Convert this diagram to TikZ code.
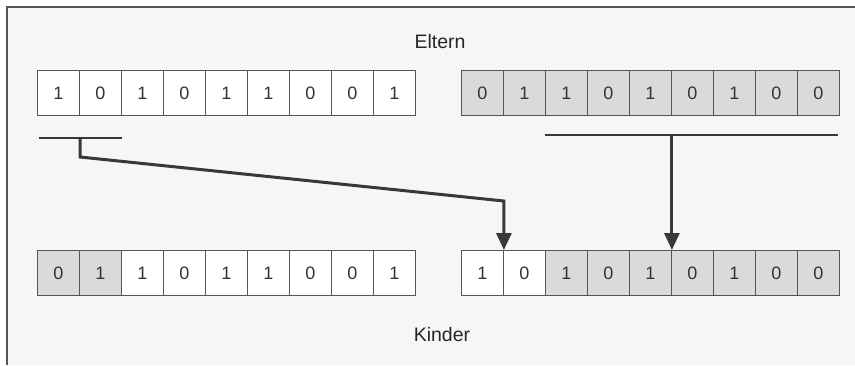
\documentclass[tikz,border=0pt]{standalone}
\usepackage{fontspec}
\setmainfont{Liberation Sans}
\usetikzlibrary{arrows.meta}
\definecolor{bgpaper}{HTML}{F5F6F7}
\definecolor{cellgray}{HTML}{DADADA}
\definecolor{edgegray}{HTML}{555555}
\definecolor{linkgray}{HTML}{383838}
\tikzset{
  bitcell/.style={draw=edgegray, line width=0.9pt, minimum width=42pt, minimum height=45pt,
    inner sep=0pt, anchor=north west, font=\fontsize{18}{20}\selectfont, text=black!80},
  shaded/.style={bitcell, fill=cellgray},
  plain/.style={bitcell, fill=white},
  marker/.style={draw=linkgray, line width=1.1pt},
  link/.style={draw=linkgray, line width=3pt, line join=miter,
    -{Triangle[length=17pt,width=15pt]}},
  caption/.style={font=\fontsize{19.5}{22}\selectfont, text=black!85}
}
\begin{document}
\begin{tikzpicture}[x=1pt,y=-1pt]
\useasboundingbox (0,0) rectangle (855,365);
\fill[white] (0,0) rectangle (855,365);
\fill[bgpaper] (7,7) rectangle (855,365);
\draw[edgegray, line width=1.2pt] (7,365) -- (7,7) -- (855,7);
\node[caption] (eltern) at (440,42) {Eltern};
\node[caption] (kinder) at (442,335) {Kinder};
% top left parent
\foreach \b [count=\i] in {1,0,1,0,1,1,0,0,1}
  \node[plain] (tl\i) at ({37+42*(\i-1)},70) {\b};
% top right parent
\foreach \b [count=\i] in {0,1,1,0,1,0,1,0,0}
  \node[shaded] (tr\i) at ({461+42*(\i-1)},70) {\b};
% bottom left child
\foreach \b [count=\i] in {0,1,1,0,1,1,0,0,1}{
  \ifnum\i<3 \node[shaded] (bl\i) at ({37+42*(\i-1)},250) {\b};
  \else \node[plain] (bl\i) at ({37+42*(\i-1)},250) {\b};\fi}
% bottom right child
\foreach \b [count=\i] in {1,0,1,0,1,0,1,0,0}{
  \ifnum\i<3 \node[plain] (br\i) at ({461+42*(\i-1)},250) {\b};
  \else \node[shaded] (br\i) at ({461+42*(\i-1)},250) {\b};\fi}
% markers
\coordinate (mLa) at (39,138);
\coordinate (mLb) at (122,138);
\coordinate (mRa) at (545,135);
\coordinate (mRb) at (838,135);
\draw[marker] (mLa) -- (mLb);
\draw[marker] (mRa) -- (mRb);
\coordinate (cA) at (80,138);
\coordinate (cB) at (80,157);
\coordinate (cC) at (br1.north east |- 0,201);
\coordinate (cD) at (br5.north east |- 0,135);
\draw[link] (cA) -- (cB) -- (cC) -- (br1.north east);
\draw[link] (cD) -- (br5.north east);
\end{tikzpicture}
\end{document}
